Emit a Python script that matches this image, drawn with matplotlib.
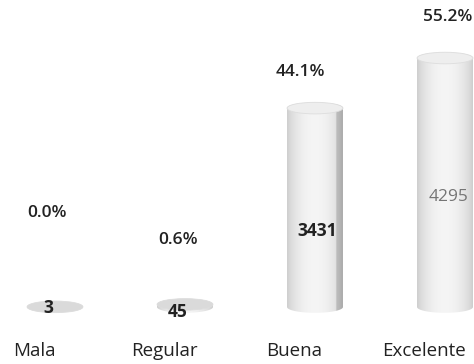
import matplotlib.pyplot as plt
import numpy as np
from matplotlib.patches import Ellipse, PathPatch
from matplotlib.path import Path

categorias = ["Mala", "Regular", "Buena", "Excelente"]
cantidades = [3, 45, 3431, 4295]
porcentajes = ["0.0%", "0.6%", "44.1%", "55.2%"]

# separacion (pixeles) entre la tapa del cilindro y el porcentaje
sep_pct = [94, 64, 36, 41]
dx_pct = [-0.06, -0.05, -0.11, 0.02]
# ajuste de las etiquetas de cantidad (x en datos, y en pixeles)
dx_val = [-0.05, -0.06, 0.02, 0.03]
dy_val = [-1, -6, -23, -14]
color_valor = ["#222222", "#222222", "#222222", "#757575"]

plt.rcParams["font.family"] = ["Open Sans", "DejaVu Sans"]

fig = plt.figure(figsize=(4.74, 3.64), dpi=100)
ax = fig.add_axes([0, 0, 1, 1])
ax.set_xlim(-0.423, 3.223)
ax.set_ylim(-983, 5296)
ax.axis("off")

ancho = 0.43
alto_elipse = 200


def perfil(oscuro_der):
    t = np.linspace(0, 1, 200)
    base = 0.79 + 0.17 * np.sin(np.pi * t) ** 0.6
    if oscuro_der:
        base = np.where(t > 0.88, base - 0.14, base)
    rgb = np.stack([base, base, base], axis=-1)
    return np.clip(rgb[None, :, :], 0, 1)


def cilindro(x, h, oscuro_der=False):
    izq, der = x - ancho / 2, x + ancho / 2
    r = ancho / 2
    b = alto_elipse / 2
    abajo = [(x + r * np.cos(a), b * np.sin(a)) for a in np.linspace(np.pi, 2 * np.pi, 40)]
    arriba = [(x + r * np.cos(a), h + b * np.sin(a)) for a in np.linspace(0, np.pi, 40)]
    verts = abajo + arriba + [abajo[0]]
    codigos = [Path.MOVETO] + [Path.LINETO] * (len(verts) - 2) + [Path.CLOSEPOLY]
    forma = PathPatch(Path(verts, codigos), facecolor="none", edgecolor="none")
    ax.add_patch(forma)
    img = ax.imshow(perfil(oscuro_der), extent=(izq, der, -b, h + b),
                    aspect="auto", zorder=2, interpolation="bilinear")
    img.set_clip_path(forma)
    tapa = "#dadada" if h < 100 else "#eeeeee"
    ax.add_patch(Ellipse((x, h), ancho, alto_elipse, facecolor=tapa,
                         edgecolor="#dddddd", lw=0.6, zorder=3))


for i, (cat, n, pct) in enumerate(zip(categorias, cantidades, porcentajes)):
    cilindro(i, n, oscuro_der=(cat == "Buena"))
    ax.annotate(pct, (i + dx_pct[i], n), xytext=(0, sep_pct[i] * 0.72),
                textcoords="offset points", ha="center", va="center",
                fontsize=12.5, fontweight="semibold", color="#222222")
    ax.annotate(str(n), (i + dx_val[i], n / 2), xytext=(0, dy_val[i] * 0.72),
                textcoords="offset points", ha="center", va="center", fontsize=12.5,
                fontweight="bold" if i < 3 else "normal", color=color_valor[i], zorder=4)
    ax.annotate(cat, (i - 0.16, 0), xytext=(0, -44 * 0.72), textcoords="offset points",
                ha="center", va="center", fontsize=13.5, color="#222222")

fig.savefig("out.png", dpi=100)
